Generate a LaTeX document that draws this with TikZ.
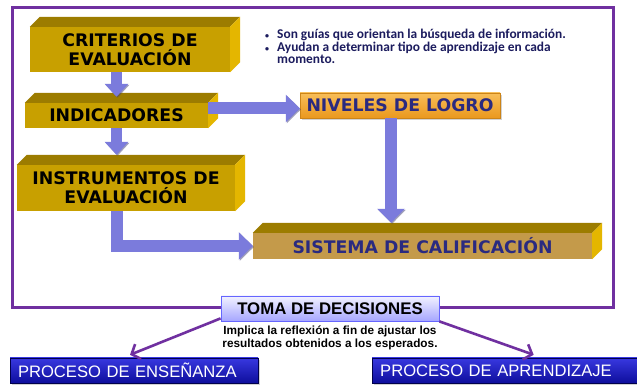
\documentclass[tikz,border=0pt]{standalone}
\usepackage{fontspec}
\newfontfamily\verdana{DejaVu Sans}
\newfontfamily\arial{Liberation Sans}
\newfontfamily\calibri{Carlito}
\usetikzlibrary{positioning, arrows.meta, shadows}
\definecolor{oro}{HTML}{C8A000}
\definecolor{orotapa}{HTML}{9C7C00}
\definecolor{orolado}{HTML}{E4B600}
\definecolor{ocre}{HTML}{C49A4A}
\definecolor{morado}{HTML}{7030A0}
\definecolor{azulflecha}{HTML}{7B7BDC}
\definecolor{marino}{HTML}{2A2A80}
\definecolor{tinta}{HTML}{1C1C5E}
\definecolor{naranjaalto}{HTML}{F8BE58}
\definecolor{naranjabajo}{HTML}{EA981E}
\definecolor{naranjaborde}{HTML}{CC8418}
\definecolor{azulalto}{HTML}{3838E0}
\definecolor{azulbajo}{HTML}{0E0E9C}

\begin{document}
\begin{tikzpicture}[x=1pt, y=1pt,
        caja/.style={fill=oro, inner sep=0pt, align=center,
            font=\verdana\bfseries\fontsize{17.3}{18.8}\selectfont},
        nivel/.style={draw=naranjaborde, top color=naranjaalto, bottom color=naranjabajo,
            inner sep=0pt, text=marino, drop shadow={shadow xshift=2pt, shadow yshift=-2pt, opacity=0.35},
            font=\verdana\bfseries\fontsize{17.3}{18.8}\selectfont},
        decision/.style={draw=blue!60, line width=0.8pt, top color=blue!5, bottom color=blue!35,
            inner sep=0pt, font=\arial\bfseries\fontsize{16.8}{18}\selectfont},
        proceso/.style={draw=blue!30!black, top color=azulalto, bottom color=azulbajo,
            text=white, inner sep=0pt, inner xsep=8pt, align=left,
            drop shadow={shadow xshift=2pt, shadow yshift=-2pt, opacity=0.35},
            font=\arial\fontsize{16.6}{18}\selectfont},
        flecha/.style={draw=azulflecha, line width=12pt, -{Triangle[length=14pt,width=27pt]},
            preaction={draw=azulflecha!55!black, opacity=0.5, transform canvas={shift={(1pt,-1pt)}}}},
        flecha chica/.style={flecha, line width=11pt, -{Triangle[length=13pt,width=23pt]}},
        conector/.style={draw=morado, line width=2.6pt, -{Straight Barb[length=7pt,width=16pt]}},
    ]
    \fill[white] (0,0) rectangle (637,385);
    \useasboundingbox (0,0) rectangle (637,385);

    % Marco
    \draw[morado, line width=3pt] (12.5,377.5) rectangle (613,77.5);

    % Cajas de la izquierda
    \node[caja, minimum width=200pt, minimum height=45pt] (crit) at (130,335.5) {CRITERIOS DE\\EVALUACIÓN};
    \node[caja, minimum width=183pt, minimum height=25pt] (indi) at (116.5,269.5) {INDICADORES};
    \node[caja, minimum width=218pt, minimum height=46pt] (inst) at (126,197) {INSTRUMENTOS DE\\EVALUACIÓN};
    % Derecha
    \node[caja, fill=ocre, text=marino, minimum width=339pt, minimum height=26pt] (sist) at (422.5,139) {SISTEMA DE CALIFICACIÓN};
    \node[nivel, minimum width=200pt, minimum height=25pt] (niv) at (400,279.5) {NIVELES DE LOGRO};

    % Caras de las cajas
    \foreach \n in {crit,indi,inst,sist} {
        \fill[orotapa] (\n.north west) -- ++(10,10) -- ([shift={(10,10)}]\n.north east) -- (\n.north east) -- cycle;
        \fill[orolado] (\n.north east) -- ++(10,10) -- ([shift={(10,10)}]\n.south east) -- (\n.south east) -- cycle;
    }

    % Notas
    \node[anchor=north west, inner sep=0pt, align=left, text=tinta,
        font=\calibri\bfseries\fontsize{13.4}{12.6}\selectfont] (notas) at (265,356)
        {\makebox[12pt][l]{\fontsize{8}{8}\selectfont\textbullet}Son guías que orientan la búsqueda de información.\\
         \makebox[12pt][l]{\fontsize{8}{8}\selectfont\textbullet}Ayudan a determinar tipo de aprendizaje en cada\\
         \hspace*{12pt}momento.};

    % Flechas
    \draw[flecha chica, shorten >=6pt] (crit.south -| indi.north) -- (indi.north);
    \draw[flecha chica, shorten >=10pt] (indi.south) -- (indi.south |- inst.north);
    \coordinate (e1) at ([yshift=-3pt]niv.west);
    \draw[flecha] (e1 -| indi.east) -- (e1);
    \coordinate (e2) at ([xshift=-9pt]niv.south);
    \draw[flecha, shorten >=10pt] (e2) -- (e2 |- sist.north);
    \coordinate (e3) at ([xshift=-9pt]inst.south);
    \draw[flecha] (e3) |- (sist.west);

    % Abajo
    \node[decision, minimum width=218pt, minimum height=25pt] (toma) at (330,76.5) {TOMA DE DECISIONES};
    \node[below=4pt of toma, inner sep=0pt, align=center,
        font=\arial\bfseries\fontsize{11.8}{13.5}\selectfont] (implica)
        {Implica la reflexión a fin de ajustar los\\resultados obtenidos a los esperados.};
    \node[proceso, text width=232pt, minimum height=25pt] (ense) at (134,14.5) {PROCESO DE ENSEÑANZA};
    \node[proceso, anchor=west, text width=257pt, minimum height=25pt] (apr) at (372,14.5) {PROCESO DE APRENDIZAJE};

    \draw[conector] ([yshift=3pt]toma.south west) -- ([xshift=-4pt,yshift=3pt]ense.north);
    \draw[conector] (toma.south east) -- ([xshift=25pt,yshift=3pt]apr.north);
\end{tikzpicture}
\end{document}
